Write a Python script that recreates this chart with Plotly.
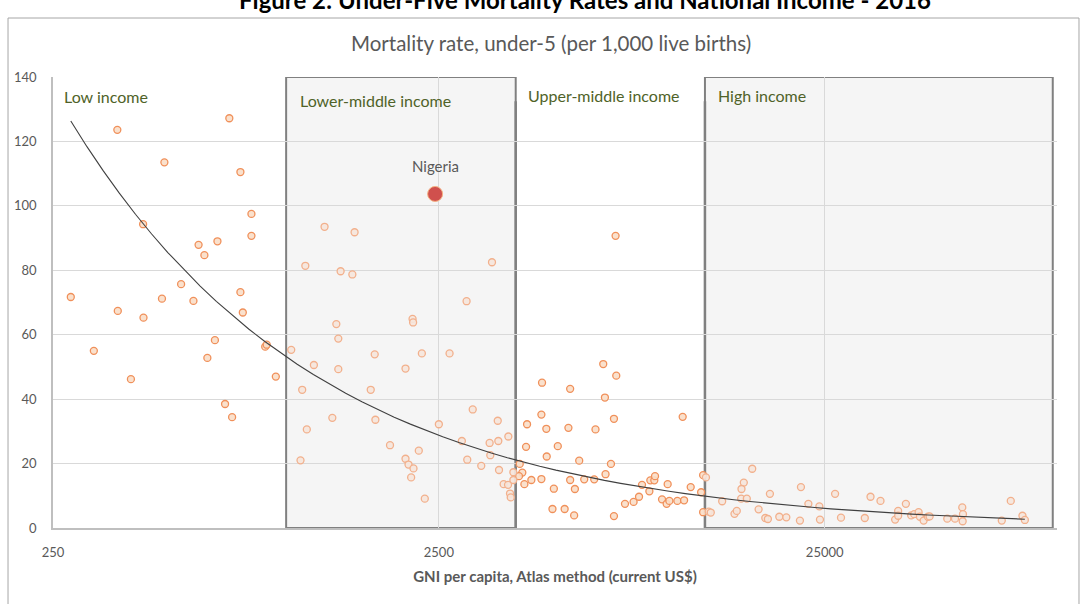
import numpy as np
import plotly.graph_objects as go

# ---- Data (GNI per capita, Atlas method, US$; under-5 mortality per 1,000) ----
low_gni = [278, 367, 368, 428, 429, 486, 479, 537, 578, 596, 617, 667, 716, 765, 817, 817,
           765, 776, 319, 398, 657, 628, 698, 728, 887, 895, 945]
low_u5 = [71.7, 123.6, 67.4, 94.3, 65.3, 113.5, 71.2, 75.7, 70.5, 87.9, 84.7, 89.0, 127.2, 110.5,
          97.5, 90.7, 73.2, 66.9, 55.0, 46.2, 58.3, 52.8, 38.5, 34.4, 56.3, 56.9, 47.0]

lmid_gni = [1264, 1512, 1127, 1391, 1492, 3433, 2950, 2137, 2144, 1356, 1372, 1705, 2259, 2665,
            1186, 1372, 2049, 1106, 1665, 3060, 1324, 1712, 1137, 3553, 2500, 3785, 3385, 3565,
            2868, 1868, 2218, 3398, 1095, 2962, 2049, 2086, 2149, 3220, 3580, 2119, 3900, 3900,
            3680, 3778, 3823, 3839, 2299, 1036]
lmid_u5 = [93.5, 91.8, 81.4, 79.7, 78.7, 82.5, 70.4, 64.9, 63.8, 63.3, 58.8, 53.9, 54.2, 54.2,
           50.6, 49.3, 49.5, 42.9, 42.9, 36.8, 34.2, 33.6, 30.6, 33.3, 32.2, 28.4, 26.4, 27.0,
           27.0, 25.7, 24.0, 22.6, 21.0, 21.2, 21.5, 19.7, 18.5, 19.3, 18.0, 15.7, 17.3, 14.9,
           13.6, 13.4, 10.7, 9.5, 9.1, 55.3]

umid_gni = [4051, 4114, 4033, 4165, 4342, 4610, 4966, 4925, 5296, 4628, 5473, 6668, 7207, 6735,
            4610, 4232, 4748, 5417, 6367, 7108, 10712, 4207, 5084, 4759, 5777, 6982, 6760, 5473,
            5952, 6318, 5630, 5605, 7108, 7592, 7992, 8255, 8404, 8781, 8831, 9044, 9083, 9470,
            9735, 9894, 9794, 10377, 10803, 11237, 11958, 12102, 12102, 7178]
umid_u5 = [19.9, 17.2, 16.1, 13.6, 14.9, 15.2, 12.2, 5.9, 5.9, 45.1, 43.2, 50.9, 47.3, 40.5,
           35.2, 32.2, 30.8, 31.1, 30.6, 33.9, 34.5, 25.2, 25.4, 22.2, 20.9, 19.9, 16.7, 14.9,
           15.1, 15.1, 12.1, 3.9, 3.7, 7.5, 8.1, 9.7, 13.4, 11.4, 14.8, 14.8, 16.1, 8.9,
           7.5, 8.4, 13.6, 8.4, 8.6, 12.7, 11.1, 16.4, 4.9, 90.7]

high_gni = [12308, 12516, 12667, 16222, 15427, 15216, 13559, 15187, 15706, 18028, 16852, 14593,
            14795, 17537, 17812, 19066, 19884, 21695, 21565, 22681, 24217, 24305, 26600, 27555,
            31760, 32862, 34878, 40580, 38753, 38064, 38753, 41893, 42644, 43785, 44131, 45118,
            46290, 46758, 51950, 54402, 56818, 57055, 56950, 71924, 75889, 81366, 82546]
high_u5 = [15.7, 5.1, 4.8, 18.4, 14.1, 12.1, 8.3, 9.1, 9.1, 10.6, 5.8, 4.4,
           5.3, 3.1, 2.8, 3.5, 3.3, 12.7, 2.3, 7.5, 6.7, 2.6, 10.6, 3.2,
           3.1, 9.7, 8.4, 7.5, 5.3, 2.6, 3.8, 3.9, 4.3, 4.9, 3.5, 2.3,
           3.5, 3.6, 2.9, 2.9, 6.4, 4.3, 2.1, 2.3, 8.4, 3.8, 2.5]

nigeria_gni = [2445]
nigeria_u5 = [103.7]

# Income-group thresholds (US$)
thresholds = [1005, 3955, 12235]
x_range = [250, 100000]
y_range = [0, 140]
group_labels = ["Low income", "Lower-middle income", "Upper-middle income", "High income"]

# ---- Build figure ----
all_gni = np.array(low_gni + lmid_gni + umid_gni + high_gni, dtype=float)
all_u5 = np.array(low_u5 + lmid_u5 + umid_u5 + high_u5, dtype=float)

# Points inside shaded boxes (lower-middle and high) look faded
in_shaded = ((all_gni >= thresholds[0]) & (all_gni < thresholds[1])) | (all_gni >= thresholds[2])

fig = go.Figure()

fig.add_trace(go.Scatter(
    x=all_gni[~in_shaded], y=all_u5[~in_shaded], mode="markers",
    marker=dict(size=7, color="rgba(250,222,200,0.9)", line=dict(color="#F0905A", width=1.3)),
    hoverinfo="x+y", showlegend=False))
fig.add_trace(go.Scatter(
    x=all_gni[in_shaded], y=all_u5[in_shaded], mode="markers",
    marker=dict(size=7, color="rgba(246,230,220,0.9)", line=dict(color="#F2B08C", width=1.3)),
    hoverinfo="x+y", showlegend=False))

# Power trendline (least squares in log-log space), spanning the data range
b, loga = np.polyfit(np.log(all_gni), np.log(all_u5), 1)
tx = np.exp(np.linspace(np.log(all_gni.min()), np.log(all_gni.max()), 60))
ty = np.exp(loga) * tx ** b
fig.add_trace(go.Scatter(x=tx, y=ty, mode="lines", line=dict(color="#404040", width=1.1),
                         hoverinfo="skip", showlegend=False))

fig.add_trace(go.Scatter(
    x=nigeria_gni, y=nigeria_u5, mode="markers",
    marker=dict(size=15, color="#D0504D", line=dict(color="#F4B183", width=1)),
    showlegend=False))

# Income group boxes
box_line = dict(color="#808080", width=2)
fig.add_shape(type="rect", xref="x", yref="y", x0=thresholds[0], x1=thresholds[1],
              y0=y_range[0], y1=y_range[1], fillcolor="#F5F5F5", line=box_line, layer="below")
fig.add_shape(type="rect", xref="x", yref="y", x0=thresholds[2], x1=97500,
              y0=y_range[0], y1=y_range[1], fillcolor="#F5F5F5", line=box_line, layer="below")
for t in thresholds[1:]:
    fig.add_shape(type="line", xref="x", yref="y", x0=t, x1=t, y0=0, y1=132.5,
                  line=dict(color="#808080", width=2.5), layer="below")

# Outer chart border
fig.add_shape(type="rect", xref="paper", yref="paper", x0=-0.0448, x1=1.0219,
              y0=-0.19, y1=1.1308, line=dict(color="#A6A6A6", width=1), fillcolor="rgba(0,0,0,0)")

label_font = dict(family="Lato, sans-serif", size=16, color="#4F6228")
label_pos = [(0.009, 0.9557), (0.244, 0.9468), (0.471, 0.960), (0.660, 0.958)]
for txt, (px, py) in zip(group_labels, label_pos):
    fig.add_annotation(text=txt, xref="paper", yref="paper", x=px, y=py, xanchor="left",
                       yanchor="middle", showarrow=False, font=label_font)

fig.add_annotation(text="Nigeria", x=np.log10(nigeria_gni[0]), y=nigeria_u5[0], xref="x", yref="y",
                   yshift=28, showarrow=False,
                   font=dict(family="Lato, sans-serif", size=15, color="#595959"))

fig.add_annotation(text="<b>Figure 2: Under-Five Mortality Rates and National Income - 2016</b>",
                   xref="paper", yref="paper", x=0.53, y=1.172, yanchor="middle", showarrow=False,
                   font=dict(family="Lato, sans-serif", size=24, color="#000000"))
fig.add_annotation(text="Mortality rate, under-5 (per 1,000 live births)",
                   xref="paper", yref="paper", x=0.496, y=1.0754, yanchor="middle", showarrow=False,
                   font=dict(family="Lato, sans-serif", size=20.5, color="#595959"))

fig.update_layout(
    width=1084, height=604,
    margin=dict(l=53, r=27, t=77, b=76),
    paper_bgcolor="white", plot_bgcolor="white",
    font=dict(family="Lato, sans-serif", color="#595959", size=13),
    xaxis=dict(type="log", range=[np.log10(x_range[0]), np.log10(x_range[1])],
               tickvals=[250, 2500, 25000], ticktext=["250", "2500", "25000"],
               showgrid=True, gridcolor="#D9D9D9", gridwidth=1.3,
               showline=True, linecolor="#BFBFBF", linewidth=1.5, zeroline=False,
               ticks="", ticklabelstandoff=12,
               title=dict(text="<b>GNI per capita, Atlas method (current US$)</b>",
                          font=dict(size=15, color="#595959"), standoff=12)),
    yaxis=dict(range=y_range, dtick=20, showgrid=True, gridcolor="#D9D9D9", gridwidth=1.3,
               showline=True, linecolor="#BFBFBF", linewidth=1.5, zeroline=False,
               ticks="", ticklabelstandoff=12),
)

fig.write_html("out.html", config={"displayModeBar": False},
               post_script="document.body.style.margin='0';document.body.style.padding='0';")
